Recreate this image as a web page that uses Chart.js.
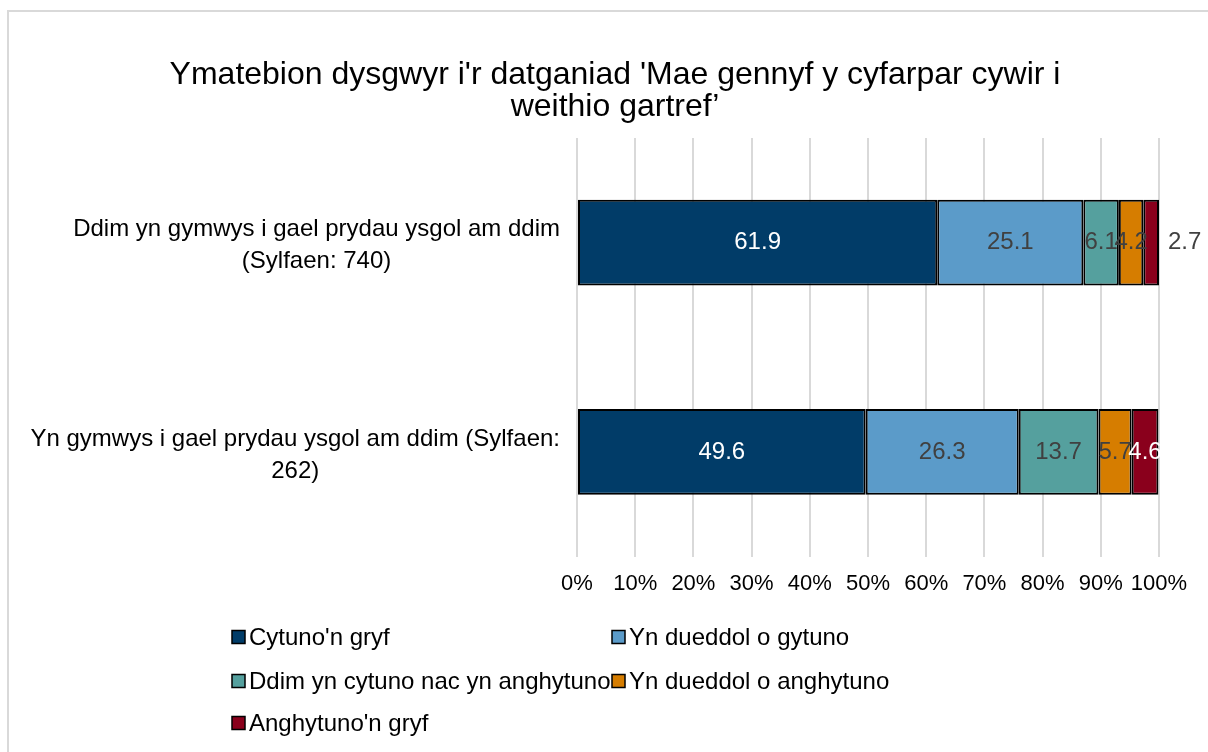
<!DOCTYPE html>
<html>
<head>
<meta charset="utf-8">
<script src="https://cdn.jsdelivr.net/npm/chart.js@4/dist/chart.umd.min.js"></script>
<style>
    body { margin: 0; background: #fff; }
    #frame {
        position: absolute; left: 7px; top: 10px; right: 0; bottom: 0;
        border-left: 2px solid #d9d9d9; border-top: 2px solid #d9d9d9;
    }
    #wrap { position: absolute; left: 0; top: 0; width: 1208px; height: 752px; }
</style>
</head>
<body>
<div id="frame"></div>
<div id="wrap"><canvas id="chart" width="1208" height="752"></canvas></div>
<script>
// Learner responses - stacked 100% bar

const titleLines = ["Ymatebion dysgwyr i'r datganiad 'Mae gennyf y cyfarpar cywir i", 'weithio gartref’'];
const categories = [
    ['Ddim yn gymwys i gael prydau ysgol am ddim', '(Sylfaen: 740)'],
    ['Yn gymwys i gael prydau ysgol am ddim (Sylfaen:', '262)']
];
const seriesNames = [
    "Cytuno'n gryf",
    'Yn dueddol o gytuno',
    'Ddim yn cytuno nac yn anghytuno',
    'Yn dueddol o anghytuno',
    "Anghytuno'n gryf"
];
const strongAgree = [61.9, 49.6];
const tendAgree = [25.1, 26.3];
const neither = [6.1, 13.7];
const tendDisagree = [4.2, 5.7];
const strongDisagree = [2.7, 4.6];
const xTicks = [0, 10, 20, 30, 40, 50, 60, 70, 80, 90, 100];

const colors = ['#013c68', '#5b9bc9', '#55a09e', '#d67d00', '#8a001c'];
const labelColors = ['#ffffff', '#404040', '#404040', '#404040', '#ffffff'];
const FONT = "'Liberation Sans', Arial, sans-serif";

const seriesValues = [strongAgree, tendAgree, neither, tendDisagree, strongDisagree];

// Title centred on the whole canvas
const pageTitle = {
    id: 'pageTitle',
    afterDraw(chart) {
        const ctx = chart.ctx;
        ctx.save();
        ctx.font = '32px ' + FONT;
        ctx.fillStyle = '#000';
        ctx.textAlign = 'center';
        ctx.textBaseline = 'middle';
        titleLines.forEach((l, k) => ctx.fillText(l, 615, 75 + k * 32));
        ctx.restore();
    }
};

// Value labels on each bar segment
const barLabels = {
    id: 'barLabels',
    afterDatasetsDraw(chart) {
        const ctx = chart.ctx;
        ctx.save();
        ctx.font = '24px ' + FONT;
        ctx.textBaseline = 'middle';
        chart.data.datasets.forEach((ds, i) => {
            chart.getDatasetMeta(i).data.forEach((bar, j) => {
                const v = ds.data[j];
                if (v < 3) {
                    ctx.fillStyle = '#404040';
                    ctx.textAlign = 'left';
                    ctx.fillText(v.toFixed(1), bar.x + 9, bar.y);
                } else {
                    ctx.fillStyle = labelColors[i];
                    ctx.textAlign = 'center';
                    ctx.fillText(v.toFixed(1), (bar.x + bar.base) / 2, bar.y);
                }
            });
        });
        ctx.restore();
    }
};

// Category labels, right-aligned block with centred lines
const categoryLabels = {
    id: 'categoryLabels',
    afterDraw(chart) {
        const ctx = chart.ctx;
        const yScale = chart.scales.y;
        ctx.save();
        ctx.font = '24px ' + FONT;
        ctx.fillStyle = '#000';
        ctx.textAlign = 'center';
        ctx.textBaseline = 'middle';
        const right = chart.chartArea.left - 17;
        categories.forEach((lines, i) => {
            const y = yScale.getPixelForValue(i) + 3;
            const w = Math.max(...lines.map(l => ctx.measureText(l).width));
            const cx = right - w / 2;
            const lh = 32;
            lines.forEach((l, k) => {
                ctx.fillText(l, cx, y + (k - (lines.length - 1) / 2) * lh);
            });
        });
        ctx.restore();
    }
};

// Two-column legend under the axis
const gridLegend = {
    id: 'gridLegend',
    afterDraw(chart) {
        const ctx = chart.ctx;
        const cols = [232, 612];
        const rows = [637, 681, 723];
        ctx.save();
        ctx.font = '24px ' + FONT;
        ctx.textBaseline = 'middle';
        ctx.textAlign = 'left';
        chart.data.datasets.forEach((ds, i) => {
            const x = cols[i % 2];
            const y = rows[Math.floor(i / 2)];
            ctx.fillStyle = ds.backgroundColor;
            ctx.fillRect(x, y - 6.5, 13, 13);
            ctx.strokeStyle = '#000';
            ctx.lineWidth = 1.5;
            ctx.strokeRect(x, y - 6.5, 13, 13);
            ctx.fillStyle = '#000';
            ctx.fillText(ds.label, x + 17, y + 1);
        });
        ctx.restore();
    }
};

new Chart(document.getElementById('chart'), {
    type: 'bar',
    data: {
        labels: categories.map(c => c.join(' ')),
        datasets: seriesNames.map((name, i) => ({
            label: name,
            data: seriesValues[i],
            backgroundColor: colors[i],
            borderColor: '#000000',
            borderWidth: 2,
            borderSkipped: false,
            barPercentage: 0.41,
            categoryPercentage: 1
        }))
    },
    options: {
        indexAxis: 'y',
        responsive: false,
        animation: false,
        layout: {
            padding: { left: 577, right: 49, top: 138, bottom: 141 }
        },
        plugins: {
            legend: { display: false },
            tooltip: { enabled: false },
            title: { display: false }
        },
        scales: {
            x: {
                stacked: true,
                min: 0,
                max: 100,
                afterBuildTicks: axis => {
                    axis.ticks = xTicks.map(v => ({ value: v }));
                },
                grid: { color: '#d9d9d9', lineWidth: 2, drawTicks: false },
                border: { display: false },
                ticks: {
                    padding: 14,
                    color: '#000',
                    maxRotation: 0,
                    autoSkip: false,
                    font: { family: FONT, size: 22 },
                    callback: v => v + '%'
                }
            },
            y: {
                stacked: true,
                display: false
            }
        }
    },
    plugins: [pageTitle, barLabels, categoryLabels, gridLegend]
});
</script>
</body>
</html>
